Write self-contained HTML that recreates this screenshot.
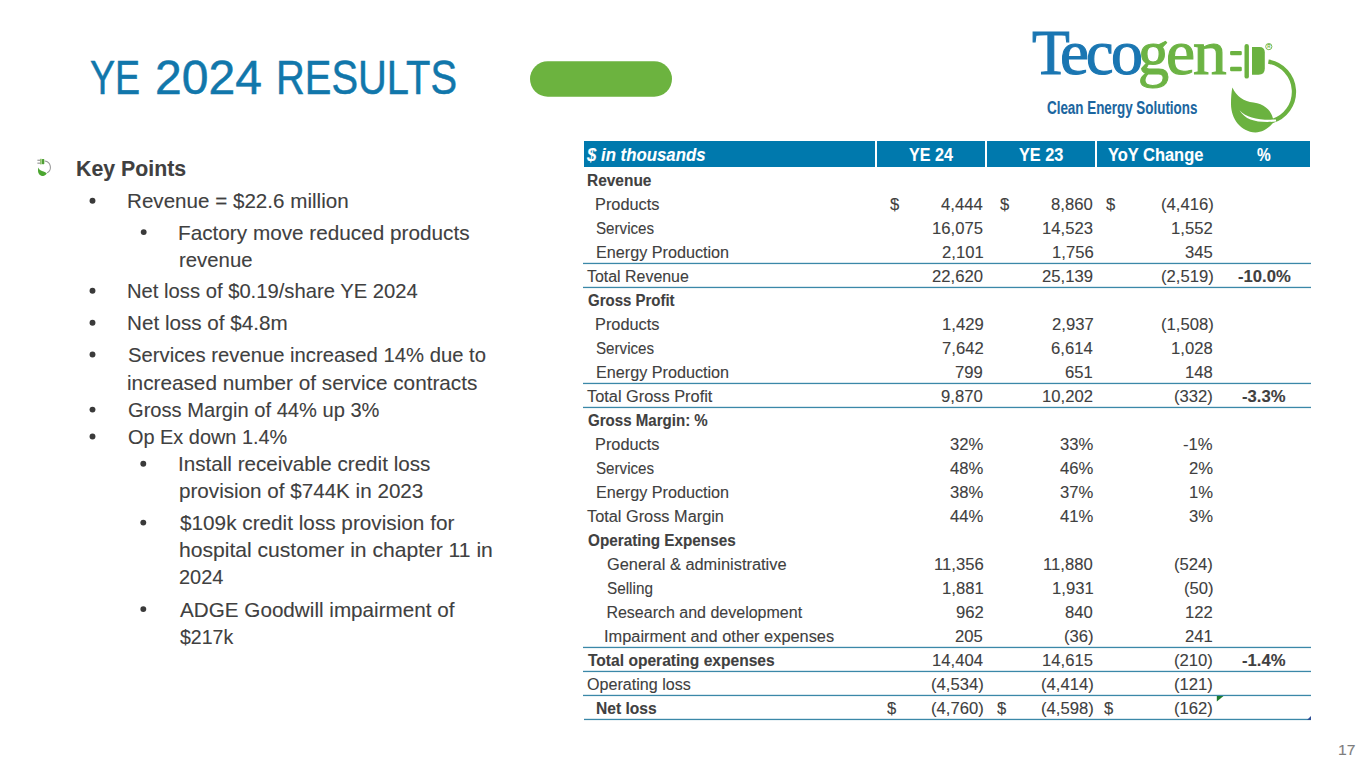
<!DOCTYPE html>
<html><head><meta charset="utf-8"><title>YE 2024 Results</title>
<style>
html,body{margin:0;padding:0;background:#fff;}
body{width:1365px;height:768px;position:relative;overflow:hidden;font-family:"Liberation Sans",sans-serif;color:#404040;}
.t{position:absolute;white-space:nowrap;line-height:0;transform-origin:0 0;-webkit-text-stroke:0.1px currentColor;}
.b{position:absolute;width:5.6px;height:5.6px;border-radius:50%;background:#3a3a3a;}
svg{position:absolute;left:0;top:0;}
</style></head><body>
<svg width="1365" height="768" viewBox="0 0 1365 768">
  <defs>
    <g id="plug">
      <rect x="1230.1" y="50.9" width="11.7" height="4.4" rx="1.2" fill="#6bb240"/>
      <rect x="1230.1" y="66.8" width="11.7" height="4.4" rx="1.2" fill="#6bb240"/>
      <rect x="1244.5" y="43.9" width="4.4" height="34.7" rx="2.2" fill="#6bb240"/>
      <path d="M1252,47 H1259.5 Q1264.8,47 1264.8,52.5 V68.5 Q1264.8,74.7 1258.5,74.7 H1252 Z" fill="#6bb240"/>
      <path d="M1268.4,61.6 A30.6,30.6 0 0 1 1271.8,121.2" fill="none" stroke="#6bb240" stroke-width="4.3"/>
      <path d="M1232.4,87.4 C1236.5,96.5 1244,101.5 1253.5,102.5 C1264,103.8 1270,110 1272,115.5 L1274,121.5 C1269,128.5 1262,132.4 1255.5,132.4 C1240.5,132 1231,118.5 1231,104 C1231,97 1231.5,91.5 1232.4,87.4 Z" fill="#6bb240"/>
      <path d="M1239.5,110.2 C1247,118 1258,120.3 1276,119.6 L1276,121.6 C1258,122.8 1246,121 1239.5,110.2 Z" fill="#ffffff"/>
    </g>
  </defs>
  <!-- green pill -->
  <rect x="530" y="61.2" width="142" height="35.5" rx="17.75" fill="#6cb33f"/>
  <!-- table header -->
  <rect x="584" y="141" width="291" height="26" fill="#0079ad"/>
  <rect x="877" y="141" width="108" height="26" fill="#0079ad"/>
  <rect x="987" y="141" width="108" height="26" fill="#0079ad"/>
  <rect x="1097" y="141" width="213" height="26" fill="#0079ad"/>
  <!-- rules -->
  <g fill="#3b88a8">
    <rect x="583" y="262.8" width="728" height="1.3"/>
    <rect x="583" y="286.8" width="728" height="1.3"/>
    <rect x="583" y="382.8" width="728" height="1.3"/>
    <rect x="583" y="406.8" width="728" height="1.3"/>
    <rect x="583" y="646.8" width="728" height="1.3"/>
    <rect x="583" y="670.8" width="728" height="1.3"/>
    <rect x="583" y="694.8" width="728" height="1.3"/>
    <rect x="584" y="718.8" width="727" height="1.3"/>
  </g>
  <path d="M1216.8,696 L1223.5,696 L1216.8,701.5 Z" fill="#1d7a2e"/>
  <path d="M1311,716 L1311,720 L1307,720 Z" fill="#2e4f96"/>
  <!-- logo icon -->
  <use href="#plug"/>
  <circle cx="1268.8" cy="46.6" r="3.1" fill="none" stroke="#6bb240" stroke-width="0.9"/>
  <text x="1267.2" y="48.4" font-family="Liberation Sans" font-size="4.6" font-weight="bold" fill="#6bb240">R</text>
  <!-- mini icon -->
  <g>
    <rect x="37.4" y="159.7" width="3" height="1.1" fill="#8f8f8f"/>
    <rect x="37.4" y="162.6" width="3" height="1.1" fill="#8f8f8f"/>
    <rect x="40.2" y="158.8" width="1.4" height="5.6" fill="#78b84e"/>
    <rect x="41.9" y="159.1" width="2.4" height="5.1" rx="0.7" fill="#4f9f36"/>
    <path d="M44.8,161.1 A6.3,6.3 0 0 1 47.1,172.9" stroke="#979797" stroke-width="1.05" fill="none"/>
    <path d="M38.3,167.6 C39.2,170.2 41.5,171 43.6,171.6 C45.2,172.1 46.3,172.9 46.8,173.4 C45.4,175.3 43.8,176 42.2,176 C39.6,175.8 38,173.3 38,170.6 C38,169.5 38.1,168.4 38.3,167.6 Z" fill="#4ca631"/>
  </g>
</svg>
<svg width="1365" height="768" style="position:absolute;left:0;top:0">
<circle cx="92.5" cy="200.8" r="2.95" fill="#3a3a3a"/>
<circle cx="143.7" cy="232.1" r="2.95" fill="#3a3a3a"/>
<circle cx="92.5" cy="290.7" r="2.95" fill="#3a3a3a"/>
<circle cx="92.5" cy="322.7" r="2.95" fill="#3a3a3a"/>
<circle cx="92.5" cy="354.5" r="2.95" fill="#3a3a3a"/>
<circle cx="92.5" cy="409.6" r="2.95" fill="#3a3a3a"/>
<circle cx="92.5" cy="436.5" r="2.95" fill="#3a3a3a"/>
<circle cx="143.3" cy="463.8" r="2.95" fill="#3a3a3a"/>
<circle cx="143.3" cy="522.6" r="2.95" fill="#3a3a3a"/>
<circle cx="143.3" cy="609.1" r="2.95" fill="#3a3a3a"/>
</svg>
<div class="t" style="left:90.41px;top:78.00px;font-size:47.6px;color:#1177ab;transform:scaleX(0.7901);-webkit-text-stroke:0.5px currentColor;">YE</div>
<div class="t" style="left:154.65px;top:78.00px;font-size:47.6px;color:#1177ab;transform:scaleX(1.0100);-webkit-text-stroke:0.5px currentColor;">2024</div>
<div class="t" style="left:275.58px;top:78.00px;font-size:47.6px;color:#1177ab;transform:scaleX(0.8383);-webkit-text-stroke:0.5px currentColor;">RESULTS</div>
<div class="t" style="left:75.66px;top:169.20px;font-size:22.2px;font-weight:bold;transform:scaleX(0.9602);">Key Points</div>
<div class="t" style="left:127.17px;top:201.40px;font-size:20.3px;transform:scaleX(1.0159);">Revenue = $22.6 million</div>
<div class="t" style="left:178.36px;top:232.70px;font-size:20.3px;transform:scaleX(1.0222);">Factory move reduced products</div>
<div class="t" style="left:178.70px;top:260.00px;font-size:20.3px;transform:scaleX(1.0032);">revenue</div>
<div class="t" style="left:127.20px;top:291.30px;font-size:20.3px;transform:scaleX(0.9969);">Net loss of $0.19/share YE 2024</div>
<div class="t" style="left:127.17px;top:323.30px;font-size:20.3px;transform:scaleX(1.0184);">Net loss of $4.8m</div>
<div class="t" style="left:127.90px;top:355.10px;font-size:20.3px;transform:scaleX(0.9984);">Services revenue increased 14% due to</div>
<div class="t" style="left:127.47px;top:382.50px;font-size:20.3px;transform:scaleX(1.0224);">increased number of service contracts</div>
<div class="t" style="left:127.81px;top:410.20px;font-size:20.3px;transform:scaleX(0.9916);">Gross Margin of 44% up 3%</div>
<div class="t" style="left:127.92px;top:437.10px;font-size:20.3px;transform:scaleX(0.9811);">Op Ex down 1.4%</div>
<div class="t" style="left:178.17px;top:464.40px;font-size:20.3px;transform:scaleX(1.0176);">Install receivable credit loss</div>
<div class="t" style="left:178.68px;top:491.40px;font-size:20.3px;transform:scaleX(1.0172);">provision of $744K in 2023</div>
<div class="t" style="left:179.80px;top:523.20px;font-size:20.3px;transform:scaleX(1.0225);">$109k credit loss provision for</div>
<div class="t" style="left:178.54px;top:550.30px;font-size:20.3px;transform:scaleX(1.0399);">hospital customer in chapter 11 in</div>
<div class="t" style="left:179.02px;top:577.10px;font-size:20.3px;transform:scaleX(0.9846);">2024</div>
<div class="t" style="left:180.00px;top:609.70px;font-size:20.3px;transform:scaleX(1.0190);">ADGE Goodwill impairment of</div>
<div class="t" style="left:179.81px;top:637.00px;font-size:20.3px;transform:scaleX(0.9627);">$217k</div>
<div class="t" style="left:586.89px;top:154.90px;font-size:18.6px;font-weight:bold;font-style:italic;color:#ffffff;transform:scaleX(0.9037);">$ in thousands</div>
<div class="t" style="left:908.94px;top:154.90px;font-size:18.6px;font-weight:bold;color:#ffffff;transform:scaleX(0.8664);">YE 24</div>
<div class="t" style="left:1019.14px;top:154.90px;font-size:18.6px;font-weight:bold;color:#ffffff;transform:scaleX(0.8768);">YE 23</div>
<div class="t" style="left:1108.43px;top:154.90px;font-size:18.6px;font-weight:bold;color:#ffffff;transform:scaleX(0.8843);">YoY Change</div>
<div class="t" style="left:1256.67px;top:154.90px;font-size:18.6px;font-weight:bold;color:#ffffff;transform:scaleX(0.8280);">%</div>
<div class="t" style="left:587.13px;top:180.70px;font-size:16.0px;font-weight:bold;transform:scaleX(0.9663);">Revenue</div>
<div class="t" style="left:594.57px;top:204.70px;font-size:16.0px;transform:scaleX(1.0205);">Products</div>
<div class="t" style="left:890.40px;top:204.70px;font-size:16.0px;transform:scaleX(1.0400);">$</div>
<div class="t" style="left:1000.40px;top:204.70px;font-size:16.0px;transform:scaleX(1.0400);">$</div>
<div class="t" style="left:1105.60px;top:204.70px;font-size:16.0px;transform:scaleX(1.0400);">$</div>
<div class="t" style="left:941.27px;top:204.70px;font-size:16.0px;transform:scaleX(1.0400);">4,444</div>
<div class="t" style="left:1051.48px;top:204.70px;font-size:16.0px;transform:scaleX(1.0400);">8,860</div>
<div class="t" style="left:1160.54px;top:204.70px;font-size:16.0px;transform:scaleX(1.0400);">(4,416)</div>
<div class="t" style="left:595.84px;top:228.70px;font-size:16.0px;transform:scaleX(0.9476);">Services</div>
<div class="t" style="left:932.23px;top:228.70px;font-size:16.0px;transform:scaleX(1.0400);">16,075</div>
<div class="t" style="left:1042.33px;top:228.70px;font-size:16.0px;transform:scaleX(1.0400);">14,523</div>
<div class="t" style="left:1171.49px;top:228.70px;font-size:16.0px;transform:scaleX(1.0400);">1,552</div>
<div class="t" style="left:595.79px;top:252.70px;font-size:16.0px;transform:scaleX(1.0113);">Energy Production</div>
<div class="t" style="left:941.59px;top:252.70px;font-size:16.0px;transform:scaleX(1.0400);">2,101</div>
<div class="t" style="left:1051.59px;top:252.70px;font-size:16.0px;transform:scaleX(1.0400);">1,756</div>
<div class="t" style="left:1185.16px;top:252.70px;font-size:16.0px;transform:scaleX(1.0400);">345</div>
<div class="t" style="left:587.20px;top:276.70px;font-size:16.0px;transform:scaleX(0.9952);">Total Revenue</div>
<div class="t" style="left:932.23px;top:276.70px;font-size:16.0px;transform:scaleX(1.0400);">22,620</div>
<div class="t" style="left:1042.33px;top:276.70px;font-size:16.0px;transform:scaleX(1.0400);">25,139</div>
<div class="t" style="left:1160.54px;top:276.70px;font-size:16.0px;transform:scaleX(1.0400);">(2,519)</div>
<div class="t" style="left:1237.80px;top:276.70px;font-size:16.0px;font-weight:bold;transform:scaleX(1.0400);">-10.0%</div>
<div class="t" style="left:587.54px;top:300.70px;font-size:16.0px;font-weight:bold;transform:scaleX(0.9364);">Gross Profit</div>
<div class="t" style="left:594.57px;top:324.70px;font-size:16.0px;transform:scaleX(1.0205);">Products</div>
<div class="t" style="left:941.59px;top:324.70px;font-size:16.0px;transform:scaleX(1.0400);">1,429</div>
<div class="t" style="left:1051.69px;top:324.70px;font-size:16.0px;transform:scaleX(1.0400);">2,937</div>
<div class="t" style="left:1160.54px;top:324.70px;font-size:16.0px;transform:scaleX(1.0400);">(1,508)</div>
<div class="t" style="left:595.84px;top:348.70px;font-size:16.0px;transform:scaleX(0.9476);">Services</div>
<div class="t" style="left:941.69px;top:348.70px;font-size:16.0px;transform:scaleX(1.0400);">7,642</div>
<div class="t" style="left:1051.27px;top:348.70px;font-size:16.0px;transform:scaleX(1.0400);">6,614</div>
<div class="t" style="left:1171.28px;top:348.70px;font-size:16.0px;transform:scaleX(1.0400);">1,028</div>
<div class="t" style="left:595.79px;top:372.70px;font-size:16.0px;transform:scaleX(1.0113);">Energy Production</div>
<div class="t" style="left:955.46px;top:372.70px;font-size:16.0px;transform:scaleX(1.0400);">799</div>
<div class="t" style="left:1065.46px;top:372.70px;font-size:16.0px;transform:scaleX(1.0400);">651</div>
<div class="t" style="left:1185.16px;top:372.70px;font-size:16.0px;transform:scaleX(1.0400);">148</div>
<div class="t" style="left:587.19px;top:396.70px;font-size:16.0px;transform:scaleX(1.0216);">Total Gross Profit</div>
<div class="t" style="left:941.48px;top:396.70px;font-size:16.0px;transform:scaleX(1.0400);">9,870</div>
<div class="t" style="left:1042.44px;top:396.70px;font-size:16.0px;transform:scaleX(1.0400);">10,202</div>
<div class="t" style="left:1174.42px;top:396.70px;font-size:16.0px;transform:scaleX(1.0400);">(332)</div>
<div class="t" style="left:1242.42px;top:396.70px;font-size:16.0px;font-weight:bold;transform:scaleX(1.0400);">-3.3%</div>
<div class="t" style="left:587.53px;top:420.70px;font-size:16.0px;font-weight:bold;transform:scaleX(0.9421);">Gross Margin: %</div>
<div class="t" style="left:594.57px;top:444.70px;font-size:16.0px;transform:scaleX(1.0205);">Products</div>
<div class="t" style="left:949.74px;top:444.70px;font-size:16.0px;transform:scaleX(1.0400);">32%</div>
<div class="t" style="left:1059.74px;top:444.70px;font-size:16.0px;transform:scaleX(1.0400);">33%</div>
<div class="t" style="left:1183.26px;top:444.70px;font-size:16.0px;transform:scaleX(1.0400);">-1%</div>
<div class="t" style="left:595.84px;top:468.70px;font-size:16.0px;transform:scaleX(0.9476);">Services</div>
<div class="t" style="left:949.74px;top:468.70px;font-size:16.0px;transform:scaleX(1.0400);">48%</div>
<div class="t" style="left:1059.74px;top:468.70px;font-size:16.0px;transform:scaleX(1.0400);">46%</div>
<div class="t" style="left:1188.80px;top:468.70px;font-size:16.0px;transform:scaleX(1.0400);">2%</div>
<div class="t" style="left:595.79px;top:492.70px;font-size:16.0px;transform:scaleX(1.0113);">Energy Production</div>
<div class="t" style="left:949.74px;top:492.70px;font-size:16.0px;transform:scaleX(1.0400);">38%</div>
<div class="t" style="left:1059.74px;top:492.70px;font-size:16.0px;transform:scaleX(1.0400);">37%</div>
<div class="t" style="left:1188.80px;top:492.70px;font-size:16.0px;transform:scaleX(1.0400);">1%</div>
<div class="t" style="left:587.19px;top:516.70px;font-size:16.0px;transform:scaleX(1.0198);">Total Gross Margin</div>
<div class="t" style="left:949.74px;top:516.70px;font-size:16.0px;transform:scaleX(1.0400);">44%</div>
<div class="t" style="left:1059.74px;top:516.70px;font-size:16.0px;transform:scaleX(1.0400);">41%</div>
<div class="t" style="left:1188.80px;top:516.70px;font-size:16.0px;transform:scaleX(1.0400);">3%</div>
<div class="t" style="left:587.53px;top:540.70px;font-size:16.0px;font-weight:bold;transform:scaleX(0.9543);">Operating Expenses</div>
<div class="t" style="left:606.88px;top:564.70px;font-size:16.0px;transform:scaleX(1.0248);">General &amp; administrative</div>
<div class="t" style="left:933.57px;top:564.70px;font-size:16.0px;transform:scaleX(1.0400);">11,356</div>
<div class="t" style="left:1043.46px;top:564.70px;font-size:16.0px;transform:scaleX(1.0400);">11,880</div>
<div class="t" style="left:1174.42px;top:564.70px;font-size:16.0px;transform:scaleX(1.0400);">(524)</div>
<div class="t" style="left:607.03px;top:588.70px;font-size:16.0px;transform:scaleX(0.9561);">Selling</div>
<div class="t" style="left:941.59px;top:588.70px;font-size:16.0px;transform:scaleX(1.0400);">1,881</div>
<div class="t" style="left:1051.59px;top:588.70px;font-size:16.0px;transform:scaleX(1.0400);">1,931</div>
<div class="t" style="left:1183.67px;top:588.70px;font-size:16.0px;transform:scaleX(1.0400);">(50)</div>
<div class="t" style="left:606.40px;top:612.70px;font-size:16.0px;">Research and development</div>
<div class="t" style="left:955.57px;top:612.70px;font-size:16.0px;transform:scaleX(1.0400);">962</div>
<div class="t" style="left:1065.36px;top:612.70px;font-size:16.0px;transform:scaleX(1.0400);">840</div>
<div class="t" style="left:1185.37px;top:612.70px;font-size:16.0px;transform:scaleX(1.0400);">122</div>
<div class="t" style="left:603.67px;top:636.70px;font-size:16.0px;transform:scaleX(1.0228);">Impairment and other expenses</div>
<div class="t" style="left:955.36px;top:636.70px;font-size:16.0px;transform:scaleX(1.0400);">205</div>
<div class="t" style="left:1063.87px;top:636.70px;font-size:16.0px;transform:scaleX(1.0400);">(36)</div>
<div class="t" style="left:1185.26px;top:636.70px;font-size:16.0px;transform:scaleX(1.0400);">241</div>
<div class="t" style="left:588.00px;top:660.70px;font-size:16.0px;font-weight:bold;transform:scaleX(0.9736);">Total operating expenses</div>
<div class="t" style="left:932.02px;top:660.70px;font-size:16.0px;transform:scaleX(1.0400);">14,404</div>
<div class="t" style="left:1042.23px;top:660.70px;font-size:16.0px;transform:scaleX(1.0400);">14,615</div>
<div class="t" style="left:1174.42px;top:660.70px;font-size:16.0px;transform:scaleX(1.0400);">(210)</div>
<div class="t" style="left:1242.42px;top:660.70px;font-size:16.0px;font-weight:bold;transform:scaleX(1.0400);">-1.4%</div>
<div class="t" style="left:586.80px;top:684.70px;font-size:16.0px;transform:scaleX(1.0062);">Operating loss</div>
<div class="t" style="left:930.74px;top:684.70px;font-size:16.0px;transform:scaleX(1.0400);">(4,534)</div>
<div class="t" style="left:1040.74px;top:684.70px;font-size:16.0px;transform:scaleX(1.0400);">(4,414)</div>
<div class="t" style="left:1174.42px;top:684.70px;font-size:16.0px;transform:scaleX(1.0400);">(121)</div>
<div class="t" style="left:595.73px;top:708.70px;font-size:16.0px;font-weight:bold;transform:scaleX(0.9745);">Net loss</div>
<div class="t" style="left:886.70px;top:708.70px;font-size:16.0px;transform:scaleX(1.0400);">$</div>
<div class="t" style="left:996.60px;top:708.70px;font-size:16.0px;transform:scaleX(1.0400);">$</div>
<div class="t" style="left:1103.80px;top:708.70px;font-size:16.0px;transform:scaleX(1.0400);">$</div>
<div class="t" style="left:930.74px;top:708.70px;font-size:16.0px;transform:scaleX(1.0400);">(4,760)</div>
<div class="t" style="left:1040.74px;top:708.70px;font-size:16.0px;transform:scaleX(1.0400);">(4,598)</div>
<div class="t" style="left:1174.42px;top:708.70px;font-size:16.0px;transform:scaleX(1.0400);">(162)</div>
<div class="t" style="left:1032.33px;top:53.30px;font-size:63.6px;font-family:'Liberation Serif',serif;color:#1a76b2;transform:scaleX(0.9719);-webkit-text-stroke:1.1px currentColor;">T</div>
<div class="t" style="left:1059.96px;top:53.30px;font-size:63.6px;font-family:'Liberation Serif',serif;color:#1a76b2;transform:scaleX(1.0264);-webkit-text-stroke:1.1px currentColor;">e</div>
<div class="t" style="left:1086.36px;top:53.30px;font-size:63.6px;font-family:'Liberation Serif',serif;color:#1a76b2;transform:scaleX(0.9741);-webkit-text-stroke:1.1px currentColor;">c</div>
<div class="t" style="left:1111.00px;top:53.30px;font-size:63.6px;font-family:'Liberation Serif',serif;color:#1a76b2;transform:scaleX(1.0063);-webkit-text-stroke:1.1px currentColor;">o</div>
<div class="t" style="left:1138.16px;top:53.30px;font-size:63.6px;font-family:'Liberation Serif',serif;color:#6cb344;transform:scaleX(0.9785);-webkit-text-stroke:1.1px currentColor;">g</div>
<div class="t" style="left:1165.95px;top:53.30px;font-size:63.6px;font-family:'Liberation Serif',serif;color:#6cb344;transform:scaleX(1.0304);-webkit-text-stroke:1.1px currentColor;">e</div>
<div class="t" style="left:1192.95px;top:53.30px;font-size:63.6px;font-family:'Liberation Serif',serif;color:#6cb344;transform:scaleX(1.0582);-webkit-text-stroke:1.1px currentColor;">n</div>
<div class="t" style="left:1047.07px;top:107.50px;font-size:17.7px;font-weight:bold;color:#1b66a0;transform:scaleX(0.7576);">Clean Energy Solutions</div>
<div class="t" style="left:1337.58px;top:749.80px;font-size:15.4px;color:#7d7d7d;transform:scaleX(1.0220);">17</div>
</body></html>
